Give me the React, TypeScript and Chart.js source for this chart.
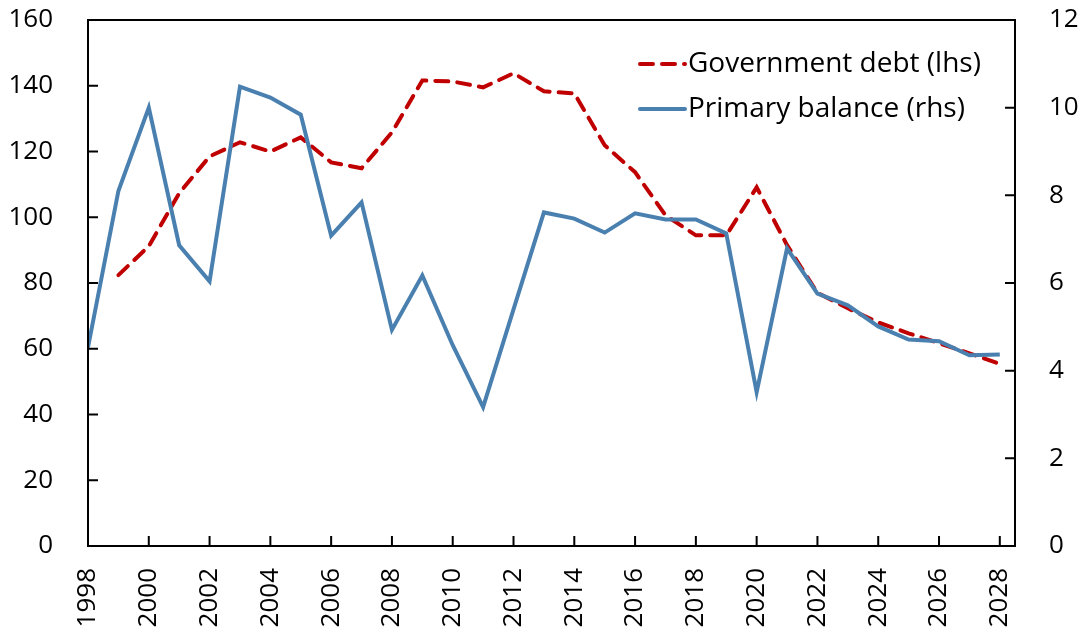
import React, { useEffect, useRef } from "react";
import { Chart, registerables } from "chart.js";

Chart.register(...registerables);

const years = [
  1998, 1999, 2000, 2001, 2002, 2003, 2004, 2005, 2006, 2007, 2008,
  2009, 2010, 2011, 2012, 2013, 2014, 2015, 2016, 2017, 2018, 2019,
  2020, 2021, 2022, 2023, 2024, 2025, 2026, 2027, 2028,
];

const governmentDebt: (number | null)[] = [
  null, 82.4, 91.2, 107.3, 118.5, 122.8, 120.0, 124.3, 116.7, 114.9, 125.8,
  141.6, 141.3, 139.5, 143.8, 138.3, 137.7, 121.9, 113.7, 100.6, 94.5, 94.5,
  109.1, 91.5, 77.0, 72.3, 68.0, 64.7, 61.7, 58.6, 55.4,
];

const primaryBalance = [
  4.53, 8.1, 10.0, 6.86, 6.04, 10.48, 10.23, 9.84, 7.08, 7.84, 4.93,
  6.17, 4.58, 3.17, 5.4, 7.61, 7.47, 7.15, 7.59, 7.45, 7.45, 7.13,
  3.51, 6.79, 5.76, 5.49, 5.01, 4.71, 4.67, 4.35, 4.37,
];

const seriesLabels = ["Government debt (lhs)", "Primary balance (rhs)"];
const leftTicks = [0, 20, 40, 60, 80, 100, 120, 140, 160];
const rightTicks = [0, 2, 4, 6, 8, 10, 12];

const FONT = "'Open Sans', 'Noto Sans', sans-serif";
const RED = "#C00000";
const BLUE = "#4A80AF";

const boxAndTicks = {
  id: "boxAndTicks",
  afterDatasetsDraw(chart: any) {
    const { ctx, chartArea } = chart;
    const { left, right, top, bottom } = chartArea;
    const tl = 10;
    ctx.save();
    ctx.strokeStyle = "#000";
    ctx.lineWidth = 2;
    ctx.beginPath();
    const yl = chart.scales.y;
    yl.ticks.forEach((t: any) => {
      const p = yl.getPixelForValue(t.value);
      ctx.moveTo(left, p);
      ctx.lineTo(left + tl, p);
    });
    const yr = chart.scales.y1;
    yr.ticks.forEach((t: any) => {
      const p = yr.getPixelForValue(t.value);
      ctx.moveTo(right, p);
      ctx.lineTo(right - tl, p);
    });
    const xs = chart.scales.x;
    xs.ticks.forEach((t: any) => {
      const p = xs.getPixelForValue(t.value);
      ctx.moveTo(p, bottom);
      ctx.lineTo(p, bottom - tl);
    });
    ctx.stroke();
    ctx.beginPath();
    ctx.rect(left, top, right - left, bottom - top);
    ctx.stroke();
    ctx.restore();
  },
  afterDraw(chart: any) {
    const { ctx } = chart;
    const ds = chart.data.datasets;
    ctx.save();
    ctx.font = `28px ${FONT}`;
    ctx.textBaseline = "middle";
    ctx.textAlign = "left";
    const rows = [64, 109];
    ds.forEach((d: any, i: number) => {
      const y = rows[i];
      ctx.beginPath();
      ctx.strokeStyle = d.borderColor;
      ctx.lineWidth = 4;
      ctx.lineCap = "round";
      ctx.setLineDash(d.borderDash || []);
      ctx.moveTo(640, y);
      ctx.lineTo(685, y);
      ctx.stroke();
      ctx.setLineDash([]);
      ctx.fillStyle = "#000";
      ctx.fillText(d.label, 688, y);
    });
    ctx.restore();
  },
};

export default function App() {
  const ref = useRef<HTMLCanvasElement | null>(null);
  useEffect(() => {
    if (!ref.current) return;
    const chart = new Chart(ref.current, {
      type: "line",
      data: {
        datasets: [
          {
            label: seriesLabels[0],
            data: years.map((x, i) => ({ x, y: governmentDebt[i] })),
            borderColor: RED,
            backgroundColor: RED,
            borderWidth: 4,
            borderDash: [13, 9],
            borderCapStyle: "round",
            pointRadius: 0,
            yAxisID: "y",
            order: 1,
            spanGaps: false,
          },
          {
            label: seriesLabels[1],
            data: years.map((x, i) => ({ x, y: primaryBalance[i] })),
            borderColor: BLUE,
            backgroundColor: BLUE,
            borderWidth: 4,
            pointRadius: 0,
            yAxisID: "y1",
            order: 0,
          },
        ],
      } as any,
      options: {
        animation: false,
        responsive: false,
        maintainAspectRatio: false,
        layout: { padding: { top: 20, left: 0, right: 0, bottom: 0 } },
        plugins: { legend: { display: false }, tooltip: { enabled: false } },
        scales: {
          x: {
            type: "linear",
            min: 1998,
            max: 2028.5,
            grid: { display: false, drawTicks: false },
            border: { display: false },
            afterFit: (s: any) => { s.height = 91; s.paddingLeft = 0; s.paddingRight = 0; },
            afterBuildTicks: (s: any) => {
              s.ticks = years.filter((y) => (y - 1998) % 2 === 0).map((v) => ({ value: v }));
            },
            ticks: {
              autoSkip: false,
              maxRotation: 90,
              minRotation: 90,
              padding: 22,
              color: "#000",
              font: { family: FONT, size: 26 },
              callback: (v: any) => String(v),
            },
          },
          y: {
            type: "linear",
            position: "left",
            min: 0,
            max: 160,
            grid: { display: false, drawTicks: false },
            border: { display: false },
            afterFit: (s: any) => { s.width = 88; s.paddingTop = 0; s.paddingBottom = 0; },
            afterBuildTicks: (s: any) => { s.ticks = leftTicks.map((v) => ({ value: v })); },
            ticks: {
              padding: 35,
              color: "#000",
              font: { family: FONT, size: 26 },
            },
          },
          y1: {
            type: "linear",
            position: "right",
            min: 0,
            max: 12,
            grid: { display: false, drawTicks: false },
            border: { display: false },
            afterFit: (s: any) => { s.width = 69; s.paddingTop = 0; s.paddingBottom = 0; },
            afterBuildTicks: (s: any) => { s.ticks = rightTicks.map((v) => ({ value: v })); },
            ticks: {
              padding: 34,
              color: "#000",
              font: { family: FONT, size: 26 },
            },
          },
        },
      } as any,
      plugins: [boxAndTicks],
    });
    return () => chart.destroy();
  }, []);
  return (
    <div style={{ position: "fixed", left: 0, top: 0, width: 1084, height: 637, background: "#fff" }}>
      <canvas ref={ref} width={1084} height={637} style={{ width: 1084, height: 637 }} />
    </div>
  );
}
